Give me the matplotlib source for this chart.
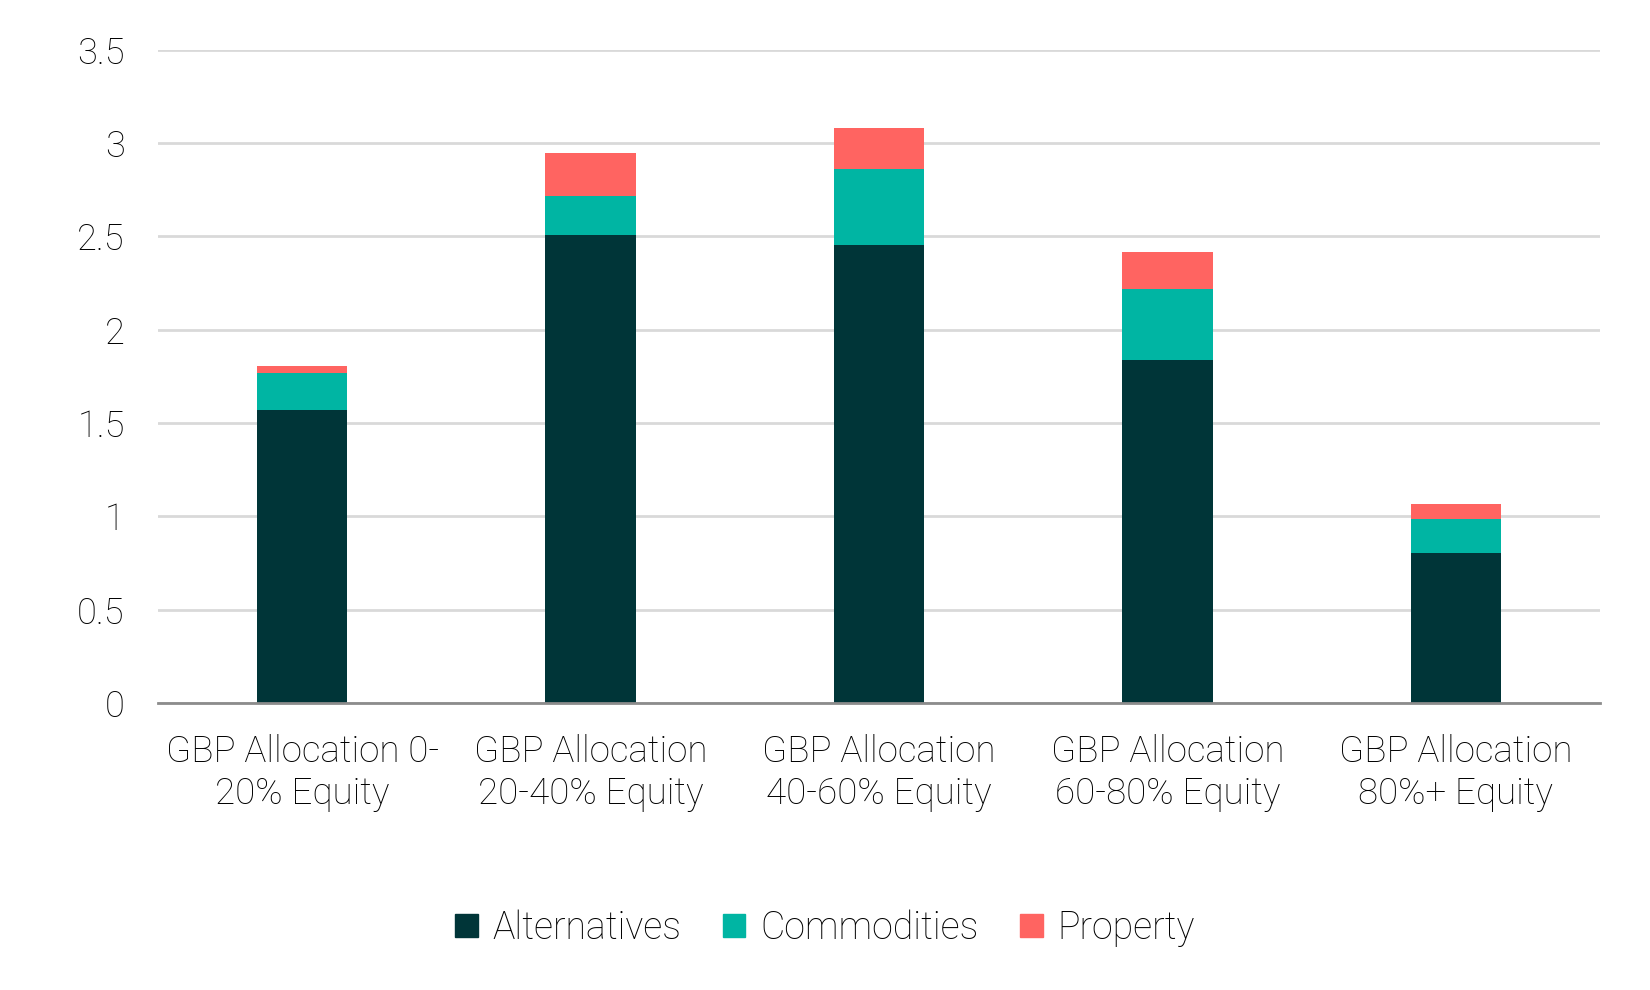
import numpy as np
import matplotlib.pyplot as plt
from matplotlib.patches import Patch

# Chart data.
categories = ['GBP Allocation 0-\n20% Equity', 'GBP Allocation\n20-40% Equity',
              'GBP Allocation\n40-60% Equity', 'GBP Allocation\n60-80% Equity',
              'GBP Allocation\n80%+ Equity']
alternatives = [1.567, 2.505, 2.454, 1.837, 0.801]
commodities = [0.202, 0.213, 0.405, 0.382, 0.185]
property_ = [0.038, 0.228, 0.223, 0.197, 0.081]
series_names = ['Alternatives', 'Commodities', 'Property']
colors = ['#003538', '#00b5a3', '#ff6461']
y_ticks = [0, 0.5, 1, 1.5, 2, 2.5, 3, 3.5]
y_tick_labels = ['0', '0.5', '1', '1.5', '2', '2.5', '3', '3.5']

plt.rcParams['font.family'] = ['Roboto', 'DejaVu Sans']
plt.rcParams['font.weight'] = 'light'

fig = plt.figure(figsize=(16.5, 9.9), dpi=100)
ax = fig.add_axes([158 / 1650, 1 - 703 / 990, 1442 / 1650, (703 - 49.5) / 990])

x = np.arange(len(categories))
width = 0.314
bottom = np.zeros(len(categories))
for values, name, color in zip([alternatives, commodities, property_], series_names, colors):
    ax.bar(x, values, width, bottom=bottom, color=color, label=name, zorder=3)
    bottom += np.array(values)

ax.set_xlim(-0.5, len(categories) - 0.5)
ax.set_ylim(0, 3.5)
ax.set_yticks(y_ticks)
ax.set_yticklabels(y_tick_labels, fontsize=26, color='#000000')
ax.set_xticks(x)
ax.set_xticklabels(categories, fontsize=26.5, color='#000000', linespacing=1.22)
ax.tick_params(axis='both', length=0)
ax.tick_params(axis='y', pad=24)
ax.tick_params(axis='x', pad=22)

ax.grid(axis='y', color='#d9d9d9', linewidth=2, zorder=0)
for side in ['top', 'right', 'left']:
    ax.spines[side].set_visible(False)
ax.spines['bottom'].set_color('#8c8c8c')
ax.spines['bottom'].set_linewidth(2)
ax.spines['bottom'].set_zorder(4)

handles = [Patch(color=c, label=n) for c, n in zip(colors, series_names)]
fig.legend(handles=handles, loc='center', bbox_to_anchor=(0.5, 1 - 928 / 990), ncol=3,
           frameon=False, fontsize=27, handlelength=0.6, handleheight=0.6,
           handletextpad=0.4, columnspacing=1.1)

fig.savefig('out.png', dpi=100)
